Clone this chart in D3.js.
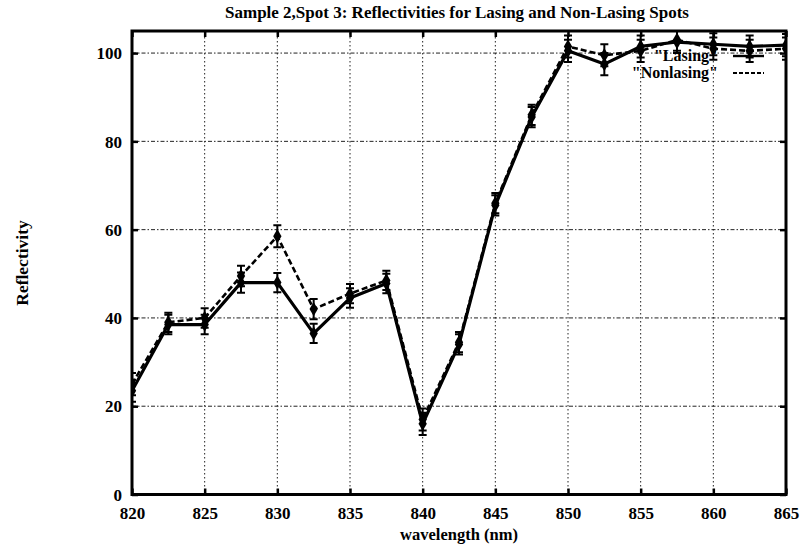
<!DOCTYPE html>
<html>
<head>
<meta charset="utf-8">
<script src="https://cdn.jsdelivr.net/npm/d3@7"></script>
<style>
  html, body { margin: 0; padding: 0; background: #fff; }
  svg { display: block; }
  text { font-family: "Liberation Serif", "DejaVu Serif", serif; font-weight: bold; fill: #000; }
</style>
</head>
<body>
<svg id="chart" width="800" height="545"></svg>
<script>
// Wavelength samples (nm)
const wavelengths = [820, 822.5, 825, 827.5, 830, 832.5, 835, 837.5, 840, 842.5,
                     845, 847.5, 850, 852.5, 855, 857.5, 860, 862.5, 865];
// Reflectivity of the lasing spot and its uncertainty
const lasing      = [23.5, 38.5, 38.5, 48, 48, 36.5, 44.5, 47.8, 16, 34,
                     65.5, 85.5, 100.5, 97.5, 101.5, 102.5, 102, 101.5, 101.8];
const lasingErr   = [2.5, 2.2, 2.2, 2.3, 2.2, 2.2, 2.2, 2.2, 2.5, 2.3,
                     2.3, 2.3, 2.5, 2.5, 2.5, 2.5, 2.5, 2.5, 2.5];
// Reflectivity of the non-lasing spot and its uncertainty
const nonlasing   = [25, 39, 40, 49.5, 58.5, 42, 45.5, 48.5, 17, 34.5,
                     66, 86, 101.5, 99.5, 100.5, 103, 101, 100.5, 101];
const nonlasingErr= [2.5, 2.2, 2.2, 2.3, 2.5, 2.3, 2.2, 2.2, 2.5, 2.3,
                     2.3, 2.3, 2.5, 2.5, 2.5, 2.5, 2.5, 2.5, 2.5];
// Axis ticks
const xTicks = [820, 825, 830, 835, 840, 845, 850, 855, 860, 865];
const yTicks = [0, 20, 40, 60, 80, 100];

const titleText = "Sample 2,Spot 3: Reflectivities for Lasing and Non-Lasing Spots";
const xLabel = "wavelength (nm)";
const yLabel = "Reflectivity";
const legendNames = ['"Lasing"', '"Nonlasing"'];

const svg = d3.select("#chart");
const x = d3.scaleLinear().domain([820, 865]).range([132, 786]);
const y = d3.scaleLinear().domain([0, 105]).range([494.5, 31]);
const [x0, x1] = x.range();
const [y0, y1] = y.range();

svg.append("defs").append("clipPath").attr("id", "plotClip")
  .append("rect").attr("x", x0).attr("y", y1).attr("width", x1 - x0).attr("height", y0 - y1);

// Grid
const grid = svg.append("g").attr("stroke", "#222").attr("stroke-width", 1);
grid.selectAll("line.vx").data(xTicks.filter(t => t > 820 && t < 865)).join("line")
  .attr("class", "vx")
  .attr("x1", d => x(d)).attr("x2", d => x(d))
  .attr("y1", y0).attr("y2", y1)
  .attr("stroke-dasharray", "1.5,2.5");
grid.selectAll("line.hy").data(yTicks.filter(t => t > 0)).join("line")
  .attr("class", "hy")
  .attr("x1", x0).attr("x2", x1)
  .attr("y1", d => y(d)).attr("y2", d => y(d))
  .attr("stroke-dasharray", "4,2,1.5,2");

// Axes (ticks pointing inward)
const xAxis = svg.append("g").attr("transform", `translate(0,${y0})`)
  .call(d3.axisBottom(x).tickValues(xTicks).tickSizeInner(-6).tickSizeOuter(0).tickFormat(d3.format("d")));
const xAxisTop = svg.append("g").attr("transform", `translate(0,${y1})`)
  .call(d3.axisTop(x).tickValues(xTicks).tickSizeInner(-6).tickSizeOuter(0).tickFormat(""));
const yAxis = svg.append("g").attr("transform", `translate(${x0},0)`)
  .call(d3.axisLeft(y).tickValues(yTicks).tickSizeInner(-6).tickSizeOuter(0));
const yAxisRight = svg.append("g").attr("transform", `translate(${x1},0)`)
  .call(d3.axisRight(y).tickValues(yTicks).tickSizeInner(-6).tickSizeOuter(0).tickFormat(""));

[xAxis, xAxisTop, yAxis, yAxisRight].forEach(g => {
  g.select(".domain").remove();
  g.selectAll(".tick line").attr("stroke", "#000").attr("stroke-width", 2.5);
});
xAxis.selectAll(".tick text")
  .attr("y", 24.5).attr("dy", 0)
  .style("font-size", "17px")
  .style("font-family", '"Liberation Serif", serif').style("font-weight", "bold");
yAxis.selectAll(".tick text")
  .attr("x", -10).attr("dy", "0.34em")
  .style("font-size", "17px")
  .style("font-family", '"Liberation Serif", serif').style("font-weight", "bold");

// Frame
svg.append("rect")
  .attr("x", x0).attr("y", y1).attr("width", x1 - x0).attr("height", y0 - y1)
  .attr("fill", "none").attr("stroke", "#000").attr("stroke-width", 3);

// Series
const series = [
  { name: legendNames[0], values: lasing, errs: lasingErr, dash: null, width: 3.2 },
  { name: legendNames[1], values: nonlasing, errs: nonlasingErr, dash: "6,3", width: 2.6 }
];

const plot = svg.append("g").attr("clip-path", "url(#plotClip)");
const line = d3.line().x(d => x(d.w)).y(d => y(d.v));
const diamond = d3.symbol().type(d3.symbolDiamond).size(60);

// draw non-lasing first so the solid lasing curve sits on top
[series[1], series[0]].forEach(s => {
  const pts = wavelengths.map((w, i) => ({ w, v: s.values[i], e: s.errs[i] }));
  const g = plot.append("g");
  g.append("path").datum(pts)
    .attr("d", line)
    .attr("fill", "none").attr("stroke", "#000")
    .attr("stroke-width", s.width)
    .attr("stroke-dasharray", s.dash)
    .attr("stroke-linejoin", "round");
  const eb = g.selectAll("g.eb").data(pts).join("g").attr("class", "eb")
    .attr("stroke", "#000").attr("stroke-width", 2);
  eb.append("line")
    .attr("x1", d => x(d.w)).attr("x2", d => x(d.w))
    .attr("y1", d => y(d.v - d.e)).attr("y2", d => y(d.v + d.e));
  eb.append("line")
    .attr("x1", d => x(d.w) - 4).attr("x2", d => x(d.w) + 4)
    .attr("y1", d => y(d.v - d.e)).attr("y2", d => y(d.v - d.e));
  eb.append("line")
    .attr("x1", d => x(d.w) - 4).attr("x2", d => x(d.w) + 4)
    .attr("y1", d => y(d.v + d.e)).attr("y2", d => y(d.v + d.e));
  g.selectAll("path.mk").data(pts).join("path").attr("class", "mk")
    .attr("d", diamond)
    .attr("transform", d => `translate(${x(d.w)},${y(d.v)})`)
    .attr("fill", "#000");
});

// Legend
const legend = svg.append("g");
series.forEach((s, i) => {
  const ly = 56 + i * 17;
  legend.append("text")
    .attr("x", 718).attr("y", ly + 5)
    .attr("text-anchor", "end")
    .style("font-size", "16px")
    .text(s.name);
  legend.append("line")
    .attr("x1", 733).attr("x2", 764)
    .attr("y1", ly).attr("y2", ly)
    .attr("stroke", "#000").attr("stroke-width", s.width - 0.8)
    .attr("stroke-dasharray", s.dash ? "4,2" : null);
});

// Titles
svg.append("text")
  .attr("x", 457).attr("y", 18)
  .attr("text-anchor", "middle")
  .style("font-size", "17px")
  .text(titleText);
svg.append("text")
  .attr("x", 459).attr("y", 539.5)
  .attr("text-anchor", "middle")
  .style("font-size", "16.5px")
  .text(xLabel);
svg.append("text")
  .attr("transform", "translate(28,263) rotate(-90)")
  .attr("text-anchor", "middle")
  .style("font-size", "17.5px")
  .text(yLabel);
</script>
</body>
</html>
